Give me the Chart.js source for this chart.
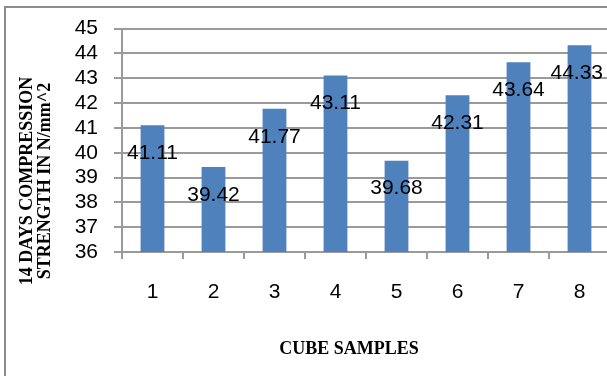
<!DOCTYPE html>
<html>
<head>
<meta charset="utf-8">
<script src="https://cdn.jsdelivr.net/npm/chart.js@4/dist/chart.umd.min.js"></script>
<style>
  html, body { margin: 0; padding: 0; background: #fff; overflow: hidden; }
  #frame { position: absolute; left: 4px; top: 6px; width: 700px; height: 500px;
           border: 2px solid #8c8c8c; box-sizing: border-box; }
  #wrap { position: absolute; left: 0; top: 0; width: 612px; height: 376px; }
</style>
</head>
<body>
<div id="frame"></div>
<div id="wrap"><canvas id="c"></canvas></div>
<script>
// Cube samples and their 14-day compressive strength (N/mm^2)
const samples = ['1', '2', '3', '4', '5', '6', '7', '8'];
const strength = [41.11, 39.42, 41.77, 43.11, 39.68, 42.31, 43.64, 44.33];
const yMin = 36;
const yMax = 45;
const yTitleLines = ['14 DAYS COMPRESSION', 'STRENGTH IN N/mm^2'];
const xTitle = 'CUBE SAMPLES';

const GRID = '#9a9a9a';
const TICK_FONT = { family: '"Liberation Sans", Arial, sans-serif', size: 21 };

// Value labels on the bars plus the two axis titles
const annotate = {
  id: 'annotate',
  afterDatasetsDraw(chart) {
    const { ctx } = chart;
    const meta = chart.getDatasetMeta(0);
    ctx.save();
    ctx.font = '21px "Liberation Sans", Arial, sans-serif';
    ctx.fillStyle = '#000';
    ctx.textAlign = 'center';
    ctx.textBaseline = 'middle';
    meta.data.forEach((bar, i) => {
      const txt = strength[i].toFixed(2);
      const w = ctx.measureText(txt).width;
      const x = Math.min(bar.x, 603 - w / 2);
      ctx.fillText(txt, x, bar.y + 28);
    });
    ctx.restore();
  },
  afterDraw(chart) {
    const { ctx } = chart;
    ctx.save();
    ctx.fillStyle = '#000';
    ctx.font = 'bold 18px "Liberation Serif", "Times New Roman", serif';
    ctx.textAlign = 'center';
    ctx.textBaseline = 'middle';
    // rotated y-axis title, two lines
    ctx.save();
    ctx.translate(36, 181);
    ctx.rotate(-Math.PI / 2);
    ctx.fillText(yTitleLines[0], 0, -9);
    ctx.fillText(yTitleLines[1], 0, 9);
    ctx.restore();
    // x-axis title
    ctx.fillText(xTitle, 349, 349);
    ctx.restore();
  }
};

new Chart(document.getElementById('c'), {
  type: 'bar',
  data: {
    labels: samples,
    datasets: [{
      data: strength,
      backgroundColor: '#4f81bd',
      borderWidth: 0,
      barPercentage: 0.39,
      categoryPercentage: 1.0
    }]
  },
  options: {
    responsive: true,
    maintainAspectRatio: false,
    animation: false,
    layout: { padding: { left: 0, top: 26, right: 2, bottom: 0 } },
    plugins: {
      legend: { display: false },
      tooltip: { enabled: false }
    },
    scales: {
      x: {
        afterFit(scale) { scale.height = 124; },
        grid: { drawOnChartArea: false, drawTicks: true, tickLength: 7, color: GRID, lineWidth: 2 },
        border: { color: GRID, width: 2 },
        ticks: { color: '#000', font: TICK_FONT, padding: 21, maxRotation: 0, autoSkip: false }
      },
      y: {
        min: yMin,
        max: yMax,
        afterFit(scale) { scale.width = 122; },
        grid: { color: GRID, lineWidth: 2, tickLength: 8 },
        border: { color: GRID, width: 2 },
        ticks: { stepSize: 1, color: '#000', font: TICK_FONT, padding: 16, autoSkip: false }
      }
    }
  },
  plugins: [annotate]
});
</script>
</body>
</html>
